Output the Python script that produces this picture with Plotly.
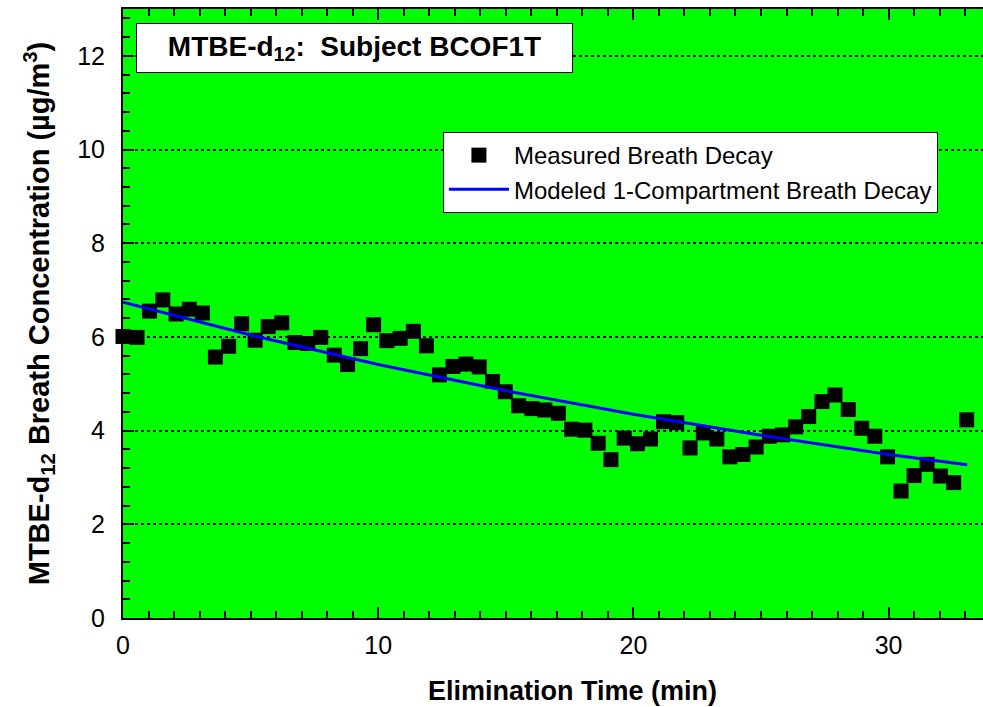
import plotly.graph_objects as go

# Measured breath decay
time_min = [0.0, 0.55, 1.04, 1.56, 2.08, 2.6, 3.11, 3.62, 4.14, 4.65,
            5.18, 5.69, 6.22, 6.74, 7.24, 7.75, 8.28, 8.8, 9.31, 9.82,
            10.34, 10.86, 11.38, 11.89, 12.4, 12.93, 13.44, 13.96, 14.48, 14.98,
            15.5, 16.02, 16.53, 17.06, 17.58, 18.1, 18.62, 19.12, 19.64, 20.16,
            20.67, 21.18, 21.7, 22.22, 22.74, 23.27, 23.78, 24.29, 24.81, 25.33,
            25.85, 26.36, 26.87, 27.39, 27.9, 28.42, 28.95, 29.46, 29.96, 30.49,
            31.0, 31.51, 32.03, 32.55, 33.06]
measured = [6.01, 5.99, 6.55, 6.79, 6.49, 6.59, 6.51, 5.57, 5.80, 6.28,
            5.93, 6.22, 6.30, 5.88, 5.86, 5.99, 5.61, 5.41, 5.75, 6.26,
            5.92, 5.97, 6.12, 5.81, 5.19, 5.37, 5.42, 5.36, 5.05, 4.83,
            4.53, 4.47, 4.44, 4.37, 4.03, 4.01, 3.73, 3.38, 3.84, 3.72,
            3.82, 4.19, 4.17, 3.63, 3.95, 3.82, 3.44, 3.49, 3.65, 3.88,
            3.91, 4.08, 4.30, 4.62, 4.76, 4.45, 4.05, 3.88, 3.44, 2.71,
            3.04, 3.28, 3.03, 2.89, 4.23]

# Modeled 1-compartment decay
model_time = [0, 5, 10, 15, 20, 25, 30, 33.08]
model_conc = [6.74, 6.04, 5.41, 4.85, 4.35, 3.90, 3.49, 3.27]

y_ticks = [0, 2, 4, 6, 8, 10, 12]
x_ticks = [0, 10, 20, 30]

FONT = "Liberation Sans, Arial, sans-serif"

fig = go.Figure()
fig.add_trace(go.Scatter(
    x=time_min, y=measured, mode="markers", name="Measured Breath Decay",
    marker=dict(symbol="square", size=15, color="black", line=dict(width=0)),
    cliponaxis=False,
))
fig.add_trace(go.Scatter(
    x=model_time, y=model_conc, mode="lines",
    name="Modeled 1-Compartment Breath Decay",
    line=dict(color="#0000FF", width=3),
))

fig.update_layout(
    width=983, height=707,
    margin=dict(l=123, r=0, t=9, b=89),
    paper_bgcolor="white",
    plot_bgcolor="#00FF00",
    font=dict(family=FONT, color="black", size=24),
    showlegend=True,
    legend=dict(
        x=0.372, y=0.798, xanchor="left", yanchor="top",
        bgcolor="white", bordercolor="black", borderwidth=1,
        font=dict(family=FONT, size=24, color="black"),
        tracegroupgap=0, itemwidth=60,
    ),
    xaxis=dict(
        range=[0, 33.7],
        tickvals=x_ticks, ticktext=[str(v) for v in x_ticks],
        ticks="inside", ticklen=11, tickwidth=1.5, tickcolor="black",
        minor=dict(dtick=1, ticks="inside", ticklen=7, tickwidth=1.5, tickcolor="black"),
        showline=True, linecolor="black", linewidth=2, mirror="ticks",
        showgrid=False, zeroline=False,
        tickfont=dict(size=25),
        ticklabelstandoff=4,
    ),
    yaxis=dict(
        range=[0, 13],
        tickvals=y_ticks, ticktext=[str(v) for v in y_ticks],
        ticks="inside", ticklen=11, tickwidth=1.5, tickcolor="black",
        minor=dict(dtick=0.4, tick0=0, ticks="inside", ticklen=7, tickwidth=1.5,
                   tickcolor="black", showgrid=False),
        showline=True, linecolor="black", linewidth=2, mirror=False,
        showgrid=True, gridcolor="black", griddash="dot", gridwidth=1.5,
        zeroline=False,
        tickfont=dict(size=25),
        ticklabelstandoff=11,
        title=dict(text="<b>MTBE-d<sub>12</sub> Breath Concentration (µg/m<sup>3</sup>)</b>",
                   font=dict(size=29), standoff=19),
    ),
    annotations=[
        dict(
            xref="paper", yref="paper", x=0.2692, y=0.936,
            xanchor="center", yanchor="middle",
            text="<b>MTBE-d<sub>12</sub>:  Subject BCOF1T</b>",
            showarrow=False, font=dict(family=FONT, size=28, color="black"),
            bgcolor="white", bordercolor="black", borderwidth=1, borderpad=0,
            width=435, height=48,
        ),
        dict(
            xref="paper", yref="paper", x=0.5227, y=-0.1199,
            xanchor="center", yanchor="middle",
            text="<b>Elimination Time (min)</b>",
            showarrow=False, font=dict(family=FONT, size=27, color="black"),
        ),
    ],
)

fig.write_html("out.html")
